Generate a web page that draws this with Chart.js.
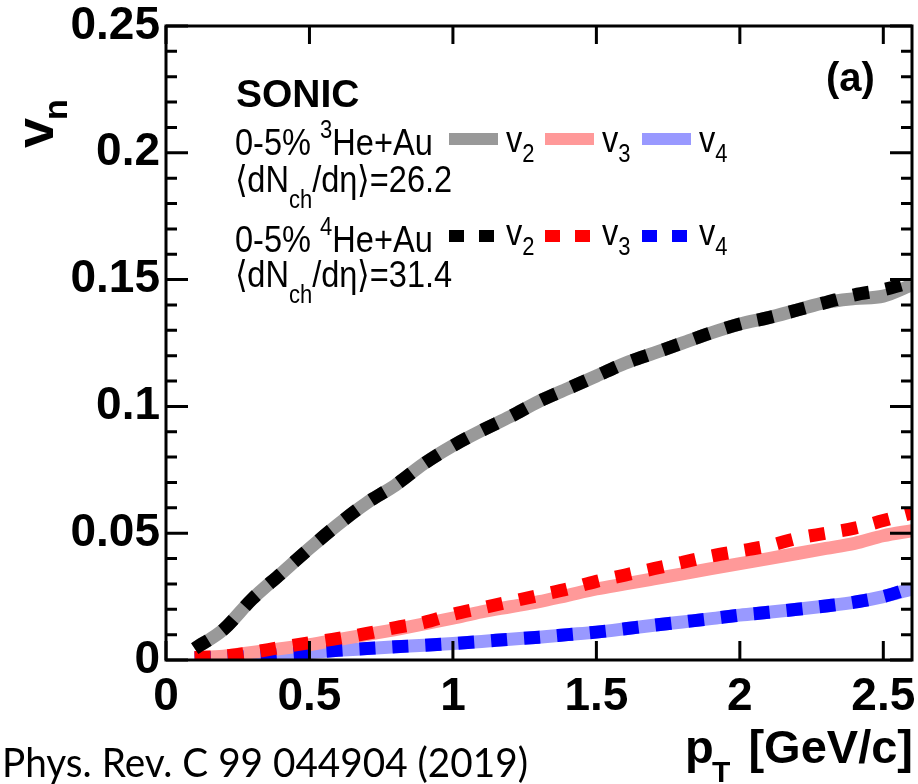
<!DOCTYPE html>
<html>
<head>
<meta charset="utf-8">
<script src="https://cdn.jsdelivr.net/npm/chart.js@4.4.1/dist/chart.umd.min.js"></script>
<style>
  html, body { margin: 0; padding: 0; background: #fff; }
  canvas { display: block; }
</style>
</head>
<body>
<canvas id="chart" width="918" height="784"></canvas>
<script>
// pT grid [GeV/c]
const pt = [0.1, 0.2, 0.3, 0.4, 0.5, 0.6, 0.7, 0.8, 0.9, 1.0, 1.1, 1.2, 1.3,
            1.4, 1.5, 1.6, 1.7, 1.8, 1.9, 2.0, 2.1, 2.2, 2.3, 2.4, 2.5, 2.6];

// 0-5% 3He+Au (solid)
const v2He3 = [0.0045, 0.012, 0.024, 0.034, 0.044, 0.0535, 0.062, 0.069, 0.0775, 0.0845, 0.0905, 0.096, 0.102,
               0.107, 0.112, 0.117, 0.121, 0.125, 0.129, 0.1325, 0.135, 0.138, 0.141, 0.1425, 0.1435, 0.148];
const v3He3 = [0.001, 0.0015, 0.003, 0.0045, 0.006, 0.008, 0.010, 0.012, 0.0142, 0.0165, 0.019, 0.021, 0.023,
               0.0255, 0.028, 0.030, 0.032, 0.034, 0.036, 0.038, 0.040, 0.042, 0.044, 0.046, 0.049, 0.051];
const v4He3 = [0.0008, 0.001, 0.0015, 0.0022, 0.003, 0.0038, 0.0045, 0.0052, 0.0058, 0.0065, 0.0073, 0.0082, 0.009,
               0.010, 0.011, 0.0123, 0.0137, 0.015, 0.0163, 0.0177, 0.0188, 0.020, 0.0213, 0.0228, 0.025, 0.028];

// 0-5% 4He+Au (dashed)
const v2He4 = [0.0045, 0.012, 0.024, 0.034, 0.044, 0.0535, 0.062, 0.069, 0.0775, 0.0845, 0.0905, 0.096, 0.102,
               0.107, 0.112, 0.117, 0.121, 0.125, 0.129, 0.1325, 0.135, 0.138, 0.141, 0.144, 0.146, 0.149];
const v3He4 = [0.001, 0.0015, 0.003, 0.005, 0.0068, 0.0085, 0.0105, 0.0128, 0.0148, 0.018, 0.0205, 0.023, 0.0255,
               0.028, 0.031, 0.0335, 0.036, 0.0385, 0.041, 0.043, 0.045, 0.048, 0.050, 0.052, 0.055, 0.058];
const v4He4 = [0.0008, 0.001, 0.0015, 0.0022, 0.003, 0.0038, 0.0045, 0.0052, 0.0058, 0.0065, 0.0073, 0.0082, 0.009,
               0.010, 0.011, 0.0123, 0.0137, 0.015, 0.0163, 0.0177, 0.0188, 0.020, 0.0213, 0.0228, 0.025, 0.0285];

const xTickLabels = ['0', '0.5', '1', '1.5', '2', '2.5'];
const yTickLabels = ['0', '0.05', '0.1', '0.15', '0.2', '0.25'];

const FONT = '"Liberation Sans", Arial, Helvetica, sans-serif';

function pts(ys) {
  return pt.map((x, i) => ({ x: x, y: ys[i] }));
}

function solid(ys, color) {
  return { data: pts(ys), borderColor: color, borderWidth: 13, pointRadius: 0, order: 2,
           cubicInterpolationMode: 'monotone', borderCapStyle: 'butt', fill: false };
}
function dashed(ys, color) {
  return { data: pts(ys), borderColor: color, borderWidth: 13, pointRadius: 0, order: 1,
           cubicInterpolationMode: 'monotone', borderCapStyle: 'butt', fill: false,
           borderDash: [16, 17] };
}

// draw a run of text pieces: [text, fontSize, bold, dy]
function drawRuns(ctx, x, y, pieces, sx) {
  ctx.save();
  ctx.translate(x, y);
  ctx.scale(sx, 1);
  let cx = 0;
  pieces.forEach(p => {
    ctx.font = (p[2] ? 'bold ' : '') + p[1] + 'px ' + FONT;
    ctx.fillText(p[0], cx, p[3] || 0);
    cx += ctx.measureText(p[0]).width;
  });
  ctx.restore();
}

const decor = {
  id: 'decor',
  afterDraw(chart) {
    const ctx = chart.ctx;
    const a = chart.chartArea;
    const xs = chart.scales.x, ys = chart.scales.y;
    ctx.save();
    ctx.strokeStyle = '#000';
    ctx.fillStyle = '#000';
    ctx.lineWidth = 3;
    ctx.lineCap = 'butt';
    // frame
    ctx.strokeRect(a.left, a.top, a.right - a.left, a.bottom - a.top);
    // y ticks (inward, both sides)
    ctx.beginPath();
    ys.ticks.forEach((t, i) => {
      const py = ys.getPixelForValue(t.value);
      const len = (i % 5 === 0) ? 22 : 11;
      ctx.moveTo(a.left, py); ctx.lineTo(a.left + len, py);
      ctx.moveTo(a.right, py); ctx.lineTo(a.right - len, py);
    });
    xs.ticks.forEach(t => {
      const px = xs.getPixelForValue(t.value);
      ctx.moveTo(px, a.bottom); ctx.lineTo(px, a.bottom - 19);
      ctx.moveTo(px, a.top); ctx.lineTo(px, a.top + 18);
    });
    ctx.stroke();

    ctx.textBaseline = 'alphabetic';
    ctx.textAlign = 'left';

    // (a)
    ctx.font = 'bold 40px ' + FONT;
    ctx.fillText('(a)', 826, 91);

    // SONIC
    ctx.font = 'bold 39px ' + FONT;
    ctx.fillText('SONIC', 236, 107);

    const sx = 0.88;
    drawRuns(ctx, 235, 155, [['0-5% ', 37], ['3', 25, false, -17], ['He+Au', 37]], sx);
    drawRuns(ctx, 235, 192, [['\u27E8dN', 37], ['ch', 25, false, 16], ['/d\u03B7\u27E9=26.2', 37]], sx);
    drawRuns(ctx, 235, 252, [['0-5% ', 37], ['4', 25, false, -17], ['He+Au', 37]], sx);
    drawRuns(ctx, 235, 287, [['\u27E8dN', 37], ['ch', 25, false, 16], ['/d\u03B7\u27E9=31.4', 37]], sx);

    // legend samples
    const sol = [['#999999', 449, '2'], ['#ff9999', 545, '3'], ['#9999ff', 642, '4']];
    const das = [['#000000', 449, '2'], ['#ff0000', 545, '3'], ['#0000ff', 642, '4']];
    ctx.lineWidth = 12;
    sol.forEach(s => {
      ctx.strokeStyle = s[0];
      ctx.beginPath(); ctx.moveTo(s[1], 139); ctx.lineTo(s[1] + 49, 139); ctx.stroke();
      ctx.fillStyle = '#000';
      drawRuns(ctx, s[1] + 57, 152, [['v', 37], [s[2], 25, false, 10]], sx);
    });
    das.forEach(s => {
      ctx.fillStyle = s[0];
      ctx.fillRect(s[1], 230, 15, 12);
      ctx.fillRect(s[1] + 30, 230, 15, 12);
      ctx.fillStyle = '#000';
      drawRuns(ctx, s[1] + 57, 245, [['v', 37], [s[2], 25, false, 10]], sx);
    });

    // y axis title v_n
    ctx.save();
    ctx.translate(53, 148);
    ctx.rotate(-Math.PI / 2);
    ctx.font = 'bold 54px ' + FONT;
    ctx.fillText('v', 0, 0);
    const vw = ctx.measureText('v').width;
    ctx.font = 'bold 34px ' + FONT;
    ctx.fillText('n', vw - 2, 14);
    ctx.restore();

    // x axis title p_T [GeV/c]
    ctx.font = 'bold 47px ' + FONT;
    ctx.textAlign = 'right';
    ctx.fillText('[GeV/c]', 913, 763);
    ctx.textAlign = 'left';
    ctx.fillText('p', 685, 763);
    ctx.font = 'bold 30px ' + FONT;
    ctx.fillText('T', 712, 782);

    // citation
    ctx.font = '40px Lato, "Open Sans", sans-serif';
    const cite = 'Phys. Rev. C 99 044904 (2019)';
    const w = ctx.measureText(cite).width;
    ctx.save();
    ctx.translate(2, 777);
    ctx.scale(526 / w, 1);
    ctx.fillText(cite, 0, 0);
    ctx.restore();

    ctx.restore();
  }
};

new Chart(document.getElementById('chart'), {
  type: 'line',
  data: {
    datasets: [
      solid(v2He3, '#999999'),
      solid(v3He3, '#ff9999'),
      solid(v4He3, '#9999ff'),
      dashed(v2He4, '#000000'),
      dashed(v3He4, '#ff0000'),
      dashed(v4He4, '#0000ff')
    ]
  },
  options: {
    responsive: false,
    animation: false,
    devicePixelRatio: 1,
    layout: { padding: { left: 0, top: 26, right: 6, bottom: 0 } },
    plugins: { legend: { display: false }, tooltip: { enabled: false } },
    scales: {
      x: {
        type: 'linear', min: 0, max: 2.6,
        grid: { display: false, drawTicks: false },
        border: { display: false },
        ticks: {
          stepSize: 0.5, includeBounds: false, autoSkip: false, maxRotation: 0,
          padding: 14, color: '#000',
          font: { family: FONT, size: 46, weight: 'bold', lineHeight: 1 },
          callback: (v) => xTickLabels[Math.round(v / 0.5)]
        },
        afterFit: (s) => { s.height = 124; s.paddingLeft = 0; s.paddingRight = 0; }
      },
      y: {
        type: 'linear', min: 0, max: 0.25,
        grid: { display: false, drawTicks: false },
        border: { display: false },
        ticks: {
          stepSize: 0.01, includeBounds: false, autoSkip: false,
          padding: 6, color: '#000',
          font: { family: FONT, size: 46, weight: 'bold', lineHeight: 1 },
          callback: (v) => {
            const k = Math.round(v * 100);
            return k % 5 === 0 ? yTickLabels[k / 5] : '';
          }
        },
        afterFit: (s) => { s.width = 166; s.paddingTop = 0; s.paddingBottom = 0; }
      }
    }
  },
  plugins: [decor]
});
</script>
</body>
</html>
